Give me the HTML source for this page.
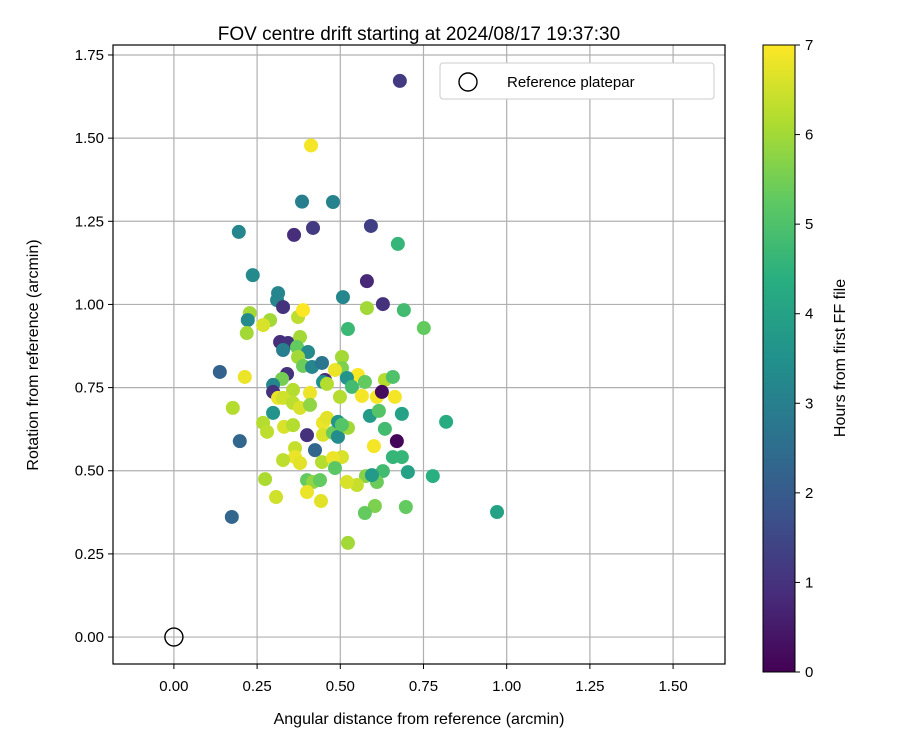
<!DOCTYPE html>
<html><head><meta charset="utf-8"><style>
body{margin:0;background:#fff;}
svg{display:block;font-family:"Liberation Sans","DejaVu Sans",sans-serif;}
</style></head><body>
<svg id="chart" width="900" height="750" viewBox="0 0 900 750">
<defs>
<linearGradient id="vir" x1="0" y1="1" x2="0" y2="0">
<stop offset="0" stop-color="#440154"/><stop offset="0.125" stop-color="#472d7b"/><stop offset="0.25" stop-color="#3b528b"/><stop offset="0.375" stop-color="#2c728e"/><stop offset="0.5" stop-color="#21918c"/><stop offset="0.625" stop-color="#28ae80"/><stop offset="0.75" stop-color="#5ec962"/><stop offset="0.875" stop-color="#addc30"/><stop offset="1" stop-color="#fde725"/>
</linearGradient>
</defs>
<text x="419" y="40" font-size="19" text-anchor="middle">FOV centre drift starting at 2024/08/17 19:37:30</text>
<g id="grid"></g>
<g id="pts"></g>
<rect x="113" y="45" width="612" height="619" fill="none" stroke="#000" stroke-width="1.2"/>
<g id="ticks"></g>
<text x="419" y="724" font-size="16" text-anchor="middle">Angular distance from reference (arcmin)</text>
<text transform="translate(38,355) rotate(-90)" font-size="16" text-anchor="middle">Rotation from reference (arcmin)</text>
<g>
<rect x="440" y="63" width="274" height="36" rx="3" fill="#fff" stroke="#ccc"/>
<circle cx="468" cy="82" r="9" fill="none" stroke="#000" stroke-width="1.4"/>
<text x="507" y="87" font-size="15">Reference platepar</text>
</g>
<rect x="763" y="45" width="32" height="627" fill="url(#vir)" stroke="#000" stroke-width="1"/>
<g id="cbt"></g>
<text transform="translate(845,358) rotate(-90)" font-size="16" text-anchor="middle">Hours from first FF file</text>
</svg>
<script>
const xs=[0.679,0.412,0.385,0.478,0.418,0.361,0.592,0.673,0.195,0.237,0.580,0.508,0.628,0.580,0.691,0.751,0.313,0.310,0.328,0.228,0.222,0.289,0.268,0.219,0.373,0.388,0.523,0.319,0.343,0.379,0.328,0.370,0.403,0.373,0.388,0.415,0.445,0.505,0.505,0.138,0.213,0.340,0.325,0.484,0.553,0.454,0.520,0.574,0.535,0.634,0.658,0.298,0.298,0.313,0.358,0.448,0.460,0.409,0.499,0.565,0.610,0.625,0.664,0.328,0.358,0.379,0.409,0.177,0.298,0.589,0.616,0.685,0.818,0.634,0.268,0.280,0.331,0.358,0.448,0.460,0.448,0.478,0.493,0.493,0.523,0.505,0.400,0.198,0.670,0.601,0.658,0.685,0.424,0.364,0.364,0.379,0.328,0.445,0.505,0.478,0.484,0.703,0.778,0.628,0.577,0.610,0.595,0.550,0.520,0.400,0.418,0.439,0.274,0.400,0.307,0.442,0.604,0.574,0.697,0.971,0.174,0.523];
const ys=[1.672,1.478,1.309,1.308,1.230,1.209,1.236,1.182,1.218,1.088,1.070,1.022,1.001,0.989,0.983,0.929,1.034,1.013,0.992,0.974,0.953,0.953,0.938,0.914,0.962,0.983,0.926,0.887,0.884,0.902,0.863,0.872,0.857,0.842,0.815,0.812,0.824,0.842,0.809,0.797,0.782,0.791,0.776,0.803,0.788,0.773,0.779,0.767,0.752,0.773,0.782,0.758,0.737,0.719,0.743,0.767,0.761,0.734,0.722,0.725,0.722,0.737,0.722,0.719,0.704,0.689,0.698,0.689,0.674,0.665,0.680,0.671,0.647,0.626,0.644,0.617,0.632,0.637,0.644,0.659,0.608,0.614,0.647,0.602,0.629,0.638,0.607,0.589,0.589,0.574,0.541,0.541,0.562,0.568,0.541,0.523,0.532,0.526,0.541,0.538,0.508,0.496,0.484,0.499,0.484,0.466,0.487,0.457,0.466,0.472,0.466,0.472,0.475,0.436,0.421,0.409,0.394,0.373,0.391,0.376,0.361,0.283];
const hours=[1.2,6.9,3.0,3.1,1.2,0.9,1.3,4.6,3.2,3.3,0.8,3.2,1.0,6.0,4.8,5.3,3.2,3.2,1.0,6.0,3.3,6.0,6.6,6.0,6.3,7.0,4.7,0.9,1.0,6.0,3.0,5.3,3.3,6.0,5.4,3.2,2.7,6.0,5.6,2.2,6.8,1.0,5.5,6.8,7.0,0.8,3.6,5.3,4.8,6.2,5.0,3.2,1.0,6.8,6.2,3.5,6.2,6.8,6.2,6.9,6.9,0.2,6.9,6.5,6.3,6.6,5.8,6.2,3.6,3.8,5.1,4.0,4.3,4.8,6.2,6.3,6.6,6.2,6.8,6.7,6.6,5.4,3.6,3.4,6.0,5.1,1.0,2.3,0.1,6.9,4.6,4.6,2.3,6.4,6.8,6.7,6.3,6.2,6.6,6.8,5.2,4.0,4.4,4.8,5.7,5.4,3.8,6.4,6.6,5.3,5.8,5.3,6.1,6.8,6.5,6.7,5.6,5.3,5.3,4.0,2.3,6.0];
const xTicks=[0,0.25,0.5,0.75,1.0,1.25,1.5];
const yTicks=[0,0.25,0.5,0.75,1.0,1.25,1.5,1.75];
const cTicks=[0,1,2,3,4,5,6,7];
const refPoint=[0,0];
const X0=113,X1=725,Y0=664,Y1=45,xmin=-0.183,xmax=1.656,ymin=-0.081,ymax=1.780;
const sx=v=>X0+(v-xmin)/(xmax-xmin)*(X1-X0);
const sy=v=>Y0-(v-ymin)/(ymax-ymin)*(Y0-Y1);
const cy=v=>672-v/7*627;
const NS="http://www.w3.org/2000/svg";
const V=[[68,1,84],[71,45,123],[59,82,139],[44,114,142],[33,145,140],[40,174,128],[94,201,98],[173,220,48],[253,231,37]];
function vir(t){t=Math.max(0,Math.min(1,t))*8;const i=Math.min(7,Math.floor(t)),f=t-i;const a=V[i],b=V[i+1];return `rgb(${a.map((c,k)=>Math.round(c+(b[k]-c)*f)).join(',')})`;}
function mk(tag,at,parent){const e=document.createElementNS(NS,tag);for(const k in at)e.setAttribute(k,at[k]);parent.appendChild(e);return e;}
const grid=document.getElementById('grid'),tk=document.getElementById('ticks'),pts=document.getElementById('pts'),cbt=document.getElementById('cbt');
xTicks.forEach(v=>{
 const l=mk('line',{x1:sx(v),x2:sx(v),y1:Y1,y2:Y0,stroke:'#b0b0b0','stroke-width':1.2},grid);
 
 
 mk('line',{x1:sx(v),x2:sx(v),y1:Y0,y2:Y0+5,stroke:'#000'},tk);
 const t=mk('text',{x:sx(v),y:Y0+27,'font-size':15,'text-anchor':'middle'},tk);t.textContent=v.toFixed(2);
 
 
});
yTicks.forEach(v=>{
 const l=mk('line',{x1:X0,x2:X1,y1:sy(v),y2:sy(v),stroke:'#b0b0b0','stroke-width':1.2},grid);
 
 
 mk('line',{x1:X0-5,x2:X0,y1:sy(v),y2:sy(v),stroke:'#000'},tk);
 const t=mk('text',{x:X0-9,y:sy(v)+5,'font-size':15,'text-anchor':'end'},tk);t.textContent=v.toFixed(2);
 
 
});
cTicks.forEach(v=>{
 mk('line',{x1:795,x2:800,y1:cy(v),y2:cy(v),stroke:'#000'},cbt);
 const t=mk('text',{x:805,y:cy(v)+5,'font-size':15},cbt);t.textContent=v;
 
 
});
xs.forEach((x,i)=>{
 const c=mk('circle',{cx:sx(x),cy:sy(ys[i]),r:7,fill:vir(hours[i]/7)},pts);
 
 
});
const r=mk('circle',{cx:sx(refPoint[0]),cy:sy(refPoint[1]),r:9,fill:'none',stroke:'#000','stroke-width':1.4},pts);


</script>
</body></html>
